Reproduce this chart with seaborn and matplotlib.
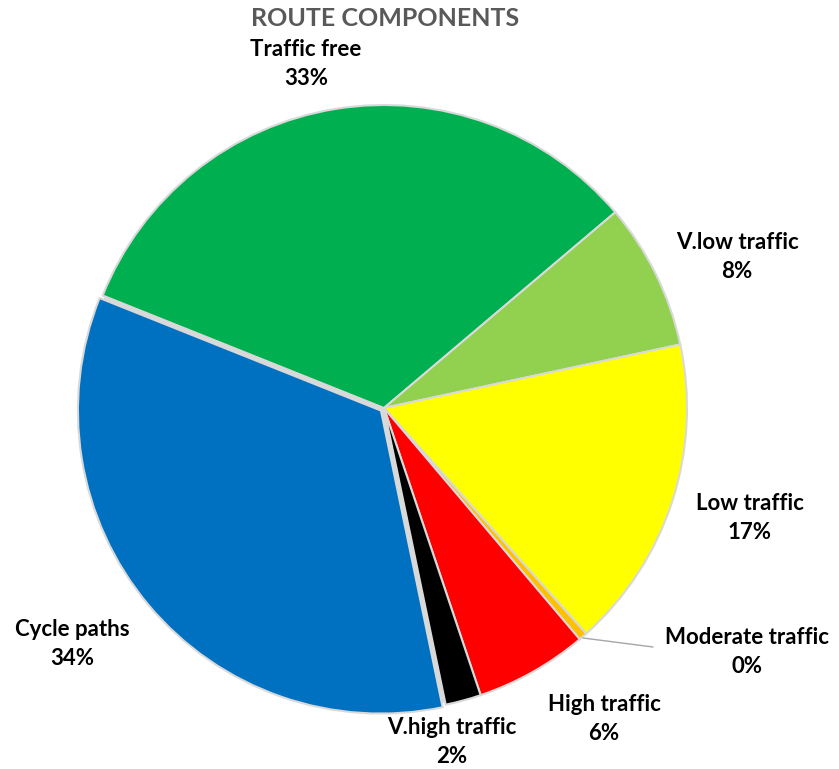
import matplotlib
matplotlib.use("Agg")
import matplotlib.pyplot as plt
import seaborn as sns

# Dados
categorias = ["Traffic free", "V.low traffic", "Low traffic", "Moderate traffic",
              "High traffic", "V.high traffic", "Cycle paths"]
valores = [32.7, 7.8, 16.7, 0.45, 6.0, 1.9, 34.25]
cores = ["#00B050", "#92D050", "#FFFF00", "#FFC000", "#FF0000", "#000000", "#0070C0"]
titulo = "ROUTE COMPONENTS"

# Layout (pixels, origem no canto superior esquerdo)
W, H = 839, 769
centro = (384, 408)
raio = 303
pos_rotulos = [(306, 64), (737, 257), (750, 518), (747, 652),
               (604, 719), (452, 742), (72, 644)]

sns.set_theme(style="white")
plt.rcParams['font.family'] = ['Lato', 'DejaVu Sans']

fig = plt.figure(figsize=(W / 100, H / 100), dpi=100)
ax = fig.add_axes([0, 0, 1, 1])

cx, cy = centro[0], H - centro[1]

# fundo cinza visível nas separações
ax.add_patch(plt.Circle((cx, cy), raio - 3, color="#D9D9D9", zorder=0))

# fatia "Cycle paths" levemente destacada (em pixels)
explode = [0.0] * len(valores)
explode[categorias.index("Cycle paths")] = 4
wedges, _ = ax.pie(valores, colors=sns.color_palette(cores), startangle=158.2,
                   counterclock=False, center=(cx, cy), radius=raio,
                   explode=explode, frame=True,
                   wedgeprops=dict(edgecolor="#D9D9D9", linewidth=1.5))
ax.set_xlim(0, W)
ax.set_ylim(0, H)
ax.set_aspect('equal')
ax.axis('off')

total = sum(valores)
for nome, v, (px_, py_) in zip(categorias, valores, pos_rotulos):
    ax.text(px_, H - py_, f"{nome}\n{v / total * 100:.0f}%", ha='center', va='center',
            fontsize=16, fontweight='bold', color='black', linespacing=1.45)

# linha guia do rótulo "Moderate traffic"
ax.plot([583, 653], [H - 638, H - 647], color="#A6A6A6", linewidth=1)

ax.text(385, H - 18, titulo, ha='center', va='center', fontsize=18,
        fontweight='bold', color="#595959")

fig.savefig("out.png", dpi=100)
